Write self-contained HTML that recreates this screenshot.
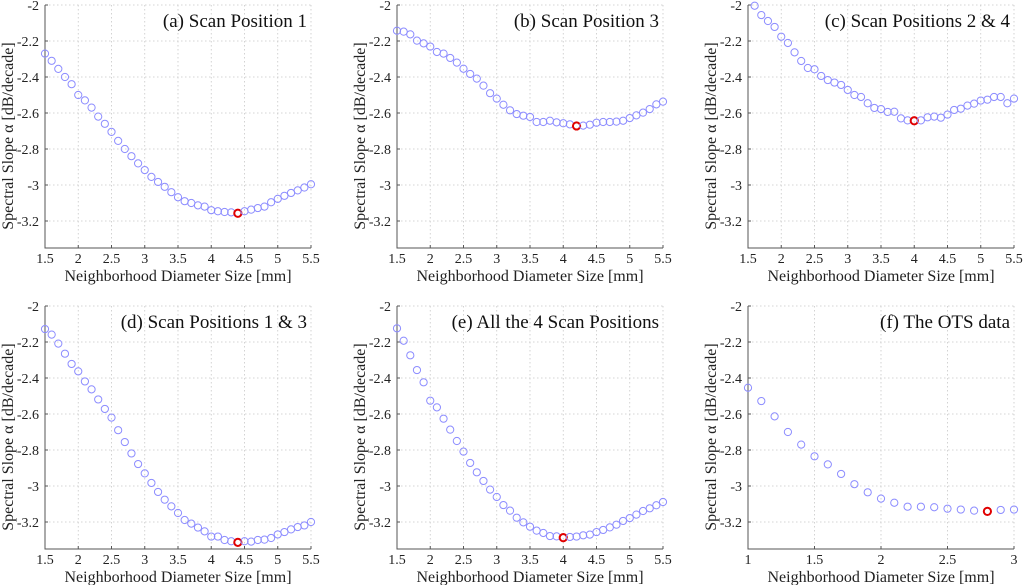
<!DOCTYPE html>
<html><head><meta charset="utf-8"><style>
html,body{margin:0;padding:0;background:#fff;}
svg{display:block;font-family:"Liberation Serif",serif;}
</style></head><body>
<svg id="fig" width="1024" height="585" viewBox="0 0 1024 585" xmlns="http://www.w3.org/2000/svg"></svg>
<script>
const xA = [1.5,1.6,1.7,1.8,1.9,2.0,2.1,2.2,2.3,2.4,2.5,2.6,2.7,2.8,2.9,3.0,3.1,3.2,3.3,3.4,3.5,3.6,3.7,3.8,3.9,4.0,4.1,4.2,4.3,4.4,4.5,4.6,4.7,4.8,4.9,5.0,5.1,5.2,5.3,5.4,5.5];
const xC = xA.slice(1);
const xF = [1.0,1.1,1.2,1.3,1.4,1.5,1.6,1.7,1.8,1.9,2.0,2.1,2.2,2.3,2.4,2.5,2.6,2.7,2.8,2.9,3.0];
const yA = [-2.27,-2.31,-2.355,-2.40,-2.44,-2.50,-2.53,-2.57,-2.62,-2.66,-2.705,-2.755,-2.80,-2.84,-2.88,-2.917,-2.955,-2.983,-3.01,-3.04,-3.068,-3.09,-3.10,-3.113,-3.12,-3.14,-3.146,-3.15,-3.152,-3.157,-3.146,-3.137,-3.128,-3.12,-3.096,-3.077,-3.06,-3.044,-3.03,-3.014,-2.996];
const yB = [-2.143,-2.148,-2.163,-2.198,-2.213,-2.231,-2.261,-2.27,-2.294,-2.32,-2.354,-2.383,-2.409,-2.448,-2.49,-2.52,-2.554,-2.585,-2.606,-2.615,-2.622,-2.65,-2.65,-2.643,-2.652,-2.657,-2.663,-2.672,-2.67,-2.665,-2.654,-2.65,-2.65,-2.648,-2.643,-2.628,-2.613,-2.598,-2.578,-2.552,-2.537];
const yC = [-2.004,-2.056,-2.089,-2.122,-2.176,-2.211,-2.263,-2.311,-2.35,-2.357,-2.394,-2.417,-2.431,-2.444,-2.472,-2.5,-2.511,-2.546,-2.572,-2.578,-2.594,-2.593,-2.63,-2.641,-2.643,-2.641,-2.624,-2.62,-2.626,-2.609,-2.583,-2.576,-2.559,-2.548,-2.531,-2.526,-2.511,-2.511,-2.546,-2.52];
const yD = [-2.128,-2.159,-2.209,-2.265,-2.322,-2.363,-2.419,-2.463,-2.519,-2.572,-2.62,-2.69,-2.756,-2.819,-2.878,-2.93,-2.983,-3.033,-3.076,-3.113,-3.15,-3.189,-3.209,-3.231,-3.252,-3.281,-3.281,-3.3,-3.307,-3.313,-3.307,-3.309,-3.3,-3.298,-3.289,-3.269,-3.256,-3.241,-3.228,-3.219,-3.2];
const yE = [-2.124,-2.193,-2.274,-2.356,-2.424,-2.526,-2.563,-2.626,-2.687,-2.75,-2.809,-2.872,-2.924,-2.972,-3.02,-3.061,-3.106,-3.137,-3.176,-3.202,-3.226,-3.248,-3.261,-3.278,-3.28,-3.287,-3.283,-3.281,-3.274,-3.27,-3.256,-3.244,-3.23,-3.215,-3.194,-3.178,-3.159,-3.139,-3.124,-3.107,-3.089];
const yF = [-2.454,-2.528,-2.613,-2.70,-2.77,-2.835,-2.88,-2.933,-2.99,-3.035,-3.07,-3.093,-3.115,-3.115,-3.118,-3.126,-3.131,-3.137,-3.141,-3.133,-3.131];
const bestX = [4.4,4.2,4.0,4.4,4.0,2.8];
const titles = ["(a) Scan Position 1","(b) Scan Position 3","(c) Scan Positions 2 & 4","(d) Scan Positions 1 & 3","(e) All the 4 Scan Positions","(f) The OTS data"];
const xTicksMain = [1.5,2,2.5,3,3.5,4,4.5,5,5.5];
const xTicksF = [1,1.5,2,2.5,3];
const yTicks = [-2,-2.2,-2.4,-2.6,-2.8,-3,-3.2];

const NS="http://www.w3.org/2000/svg";
const svg=document.getElementById('fig');
function el(tag,attrs,parent){const e=document.createElementNS(NS,tag);for(const k in attrs)e.setAttribute(k,attrs[k]);(parent||svg).appendChild(e);return e;}

const panels=[
 {L:45,T:5,xs:xA,ys:yA,xt:xTicksMain,xmin:1.5,xmax:5.5},
 {L:397,T:5,xs:xA,ys:yB,xt:xTicksMain,xmin:1.5,xmax:5.5},
 {L:748,T:5,xs:xC,ys:yC,xt:xTicksMain,xmin:1.5,xmax:5.5},
 {L:45,T:306,xs:xA,ys:yD,xt:xTicksMain,xmin:1.5,xmax:5.5},
 {L:397,T:306,xs:xA,ys:yE,xt:xTicksMain,xmin:1.5,xmax:5.5},
 {L:748,T:306,xs:xF,ys:yF,xt:xTicksF,xmin:1,xmax:3}
];
const W=266, YMAX=-2, YMIN=-3.35, PPU=180;
panels.forEach((p,i)=>{
  const g=el('g',{});
  
  
  const xs=v=>p.L+(v-p.xmin)/(p.xmax-p.xmin)*W;
  const ys=v=>p.T+(YMAX-v)*PPU;
  const B=ys(YMIN), R=p.L+W;
  p.xt.forEach(t=>{const l=el('line',{x1:xs(t),x2:xs(t),y1:p.T,y2:B,stroke:'#c8c8c8','stroke-width':0.8,'stroke-dasharray':'1.5,2.5'},g);});
  yTicks.forEach(t=>{const l=el('line',{x1:p.L,x2:R,y1:ys(t),y2:ys(t),stroke:'#c8c8c8','stroke-width':0.8,'stroke-dasharray':'1.5,2.5'},g);});
  const ax=el('path',{d:`M${p.L},${p.T} V${B} H${R}`,fill:'none',stroke:'#555','stroke-width':1},g);
  
  p.xt.forEach(t=>{
    el('line',{x1:xs(t),x2:xs(t),y1:B,y2:B-3,stroke:'#555'},g);
    const tx=el('text',{x:xs(t),y:B+15,'font-size':14,'text-anchor':'middle',fill:'#222'},g);
    tx.textContent=String(t);
  });
  yTicks.forEach(t=>{
    el('line',{x1:p.L,x2:p.L+3,y1:ys(t),y2:ys(t),stroke:'#555'},g);
    const tx=el('text',{x:p.L-6,y:ys(t)+5,'font-size':14,'text-anchor':'end',fill:'#222'},g);
    tx.textContent=String(t);
  });
  const xl=el('text',{x:p.L+W/2,y:B+33,'font-size':16,'text-anchor':'middle',fill:'#222'},g);
  xl.textContent='Neighborhood Diameter Size [mm]';
  const cy=p.T+131;
  const yl=el('text',{x:0,y:0,'font-size':16,'text-anchor':'middle',fill:'#222',transform:`translate(${p.L-32},${cy}) rotate(-90)`},g);
  yl.textContent='Spectral Slope α [dB/decade]';
  const tt=el('text',{x:R-4,y:p.T+22,'font-size':19,'text-anchor':'end',fill:'#111'},g);
  tt.textContent=titles[i];
  p.xs.forEach((x,j)=>{
    const best=Math.abs(x-bestX[i])<1e-6;
    const c=el('circle',{cx:xs(x),cy:ys(p.ys[j]),r:3.6,fill:'none',stroke:best?'#e00000':'#8c8cff','stroke-width':best?2:1},g);
    
    
  });
});
</script>
</body></html>
